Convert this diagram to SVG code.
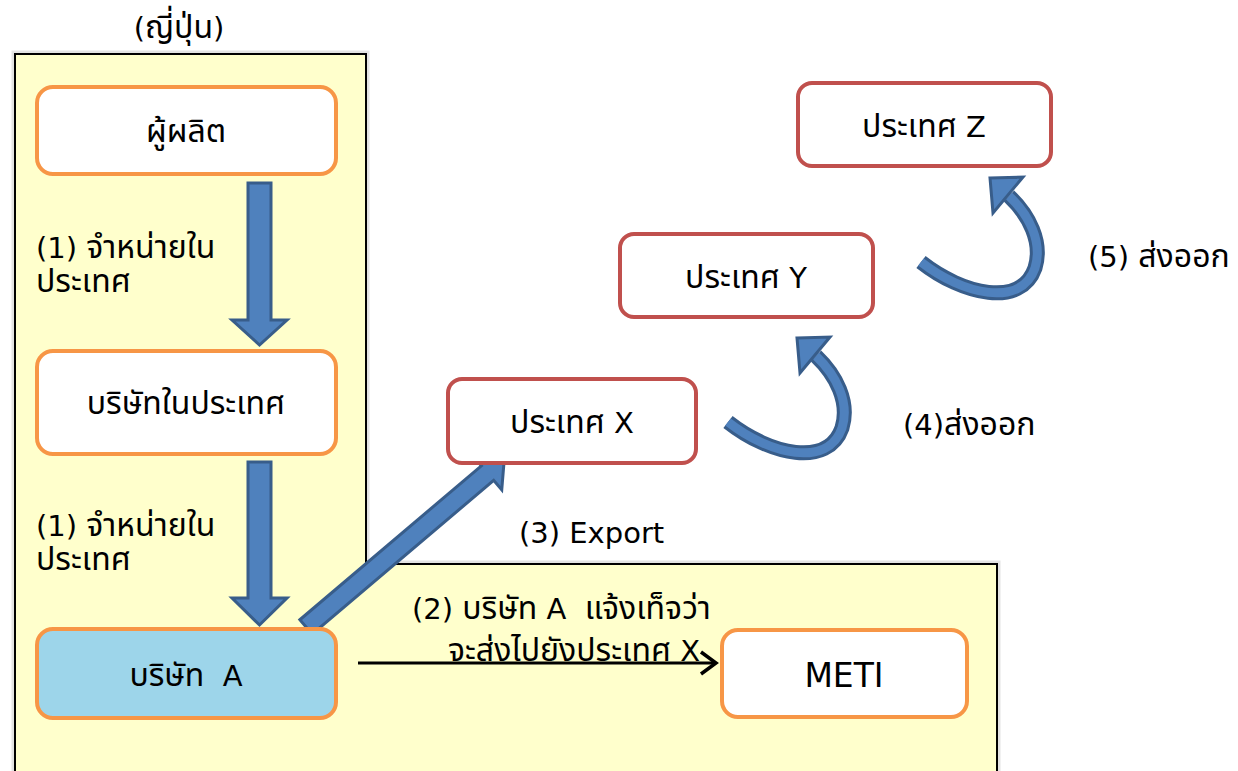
<svg xmlns="http://www.w3.org/2000/svg" width="1238" height="771" viewBox="0 0 1238 771">
<defs>
<style>
text{font-family:"DejaVu Sans","Noto Sans Thai","Noto Sans","Liberation Sans",sans-serif;fill:#000;font-size:29px;}
.th{font-size:32px;}
.ctr{text-anchor:middle;}
.obox{fill:#fff;stroke:#F79646;stroke-width:4;}
.rbox{fill:#fff;stroke:#C0504D;stroke-width:4;}
.blk{fill:#4F81BD;stroke:#385D8A;stroke-width:3;stroke-linejoin:miter;}
.cout{fill:none;stroke:#385D8A;stroke-width:15;}
.cin{fill:none;stroke:#4F81BD;stroke-width:9;}
</style>
<g id="curve">
<path class="cout" d="M728,422 C770,455 828,468 842,428 C850,402 836,375 816,356"/>
<path class="cin" d="M728,422 C770,455 828,468 842,428 C850,402 836,375 816,356"/>
<polygon class="blk" points="797,338 830,337 800,373"/>
</g>
</defs>
<g id="panels">
<path d="M15,54 H366 V564 H997 V775 H15 Z" fill="none" stroke="#E3E3E3" stroke-width="7"/>
<path d="M15,54 H366 V564 H997 V775 H15 Z" fill="#FFFFCC" stroke="#000" stroke-width="2"/>
</g>
<text class="ctr" x="179" y="38">(<tspan class="th">ญี่ปุ่น</tspan>)</text>
<g id="connectors">
<polygon class="blk" points="248,183 271,183 271,320 287,320 259.5,345 232,320 248,320"/>
<polygon class="blk" points="248,462 271,462 271,598 287,598 259.5,625 232,598 248,598"/>
<polygon class="blk" transform="translate(306,627) rotate(-40.3)" points="0,-9.5 238,-9.5 238,-22 260,0 238,22 238,9.5 0,9.5"/>
<line x1="358" y1="663" x2="714" y2="663" stroke="#000" stroke-width="3"/>
<polyline points="701,652 716,663 701,674" fill="none" stroke="#000" stroke-width="3.5"/>
<use href="#curve"/>
<use href="#curve" transform="translate(193,-160)"/>
</g>
<g id="n-producer">
<rect class="obox" x="37" y="87" width="299" height="87" rx="16"/>
<text class="th ctr" x="186" y="142">ผู้ผลิต</text>
</g>
<g id="n-domestic">
<rect class="obox" x="37" y="351" width="299" height="103" rx="16"/>
<text class="th ctr" x="186" y="414">บริษัทในประเทศ</text>
</g>
<g id="n-companyA">
<rect class="obox" x="37" y="629" width="299" height="89" rx="16" style="fill:#9DD5EA"/>
<text class="ctr" x="186" y="686" xml:space="preserve"><tspan class="th">บริษัท</tspan>  A</text>
</g>
<g id="n-meti">
<rect class="obox" x="722" y="630" width="245" height="87" rx="16"/>
<text class="ctr" x="844" y="687" style="font-size:33px">METI</text>
</g>
<g id="n-x">
<rect class="rbox" x="448" y="379" width="248" height="84" rx="14"/>
<text class="ctr" x="572" y="433"><tspan class="th">ประเทศ</tspan> X</text>
</g>
<g id="n-y">
<rect class="rbox" x="620" y="234" width="253" height="83" rx="14"/>
<text class="ctr" x="746" y="288"><tspan class="th">ประเทศ</tspan> Y</text>
</g>
<g id="n-z">
<rect class="rbox" x="798" y="83" width="253" height="83" rx="14"/>
<text class="ctr" x="924" y="137"><tspan class="th">ประเทศ</tspan> Z</text>
</g>
<g id="labels">
<text x="36" y="258">(1) <tspan class="th">จำหน่ายใน</tspan><tspan class="th" x="36" y="292">ประเทศ</tspan></text>
<text x="36" y="536">(1) <tspan class="th">จำหน่ายใน</tspan><tspan class="th" x="36" y="570">ประเทศ</tspan></text>
<text x="519" y="543">(3) Export</text>
<text x="412" y="619" xml:space="preserve">(2) <tspan class="th">บริษัท</tspan> A  <tspan class="th">แจ้งเท็จว่า</tspan><tspan x="448" y="661"><tspan class="th">จะส่งไปยังประเทศ</tspan> X</tspan></text>
<text x="903" y="435">(4)<tspan class="th">ส่งออก</tspan></text>
<text x="1088" y="267">(5) <tspan class="th">ส่งออก</tspan></text>
</g>
</svg>
